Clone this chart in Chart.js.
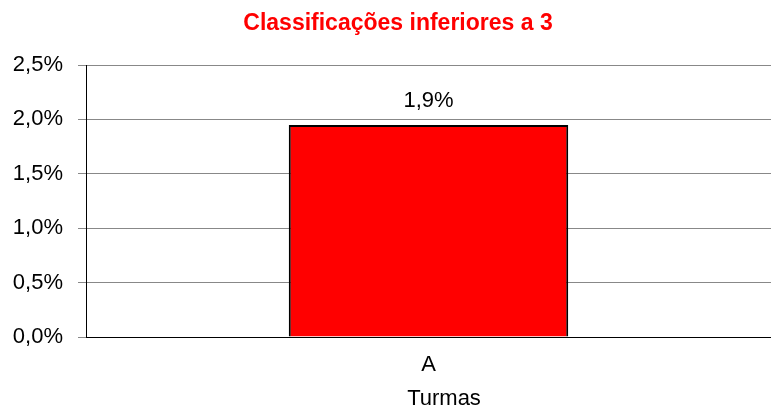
<!DOCTYPE html>
<html>
<head>
<meta charset="utf-8">
<script src="https://cdn.jsdelivr.net/npm/chart.js@4/dist/chart.umd.min.js"></script>
<style>
  html, body { margin: 0; padding: 0; background: #fff; }
  #wrap { width: 771px; height: 410px; }
</style>
</head>
<body>
<div id="wrap"><canvas id="chart" width="771" height="410"></canvas></div>
<script>
// Data
const turmas = ['A'];
const percentValues = [1.948];
const yTicks = [0, 0.5, 1, 1.5, 2, 2.5];
const chartTitle = 'Classificações inferiores a 3';
const xTitle = 'Turmas';

const FONT = '"Liberation Sans", Arial, sans-serif';
const fmt = (v, d) => v.toFixed(d).replace('.', ',') + '%';

// Titles (placed off-centre like the original) and value label above each bar
const labelsPlugin = {
  id: 'labelsPlugin',
  afterDatasetsDraw(chart) {
    const c = chart.ctx;
    const meta = chart.getDatasetMeta(0);
    c.save();
    c.textAlign = 'center';
    c.textBaseline = 'middle';
    c.font = 'bold 23px ' + FONT;
    c.fillStyle = '#ff0000';
    c.fillText(chartTitle, 398, 24);
    c.font = '22px ' + FONT;
    c.fillStyle = '#000';
    c.fillText(xTitle, 444, 399);
    meta.data.forEach((bar, i) => {
      c.fillText(fmt(percentValues[i], 1), bar.x, bar.y - 24);
    });
    c.restore();
  }
};

const ctx = document.getElementById('chart').getContext('2d');
new Chart(ctx, {
  type: 'bar',
  data: {
    labels: turmas,
    datasets: [{
      data: percentValues,
      backgroundColor: '#ff0000',
      borderColor: '#000',
      borderWidth: 2,
      barPercentage: 0.408,
      categoryPercentage: 1
    }]
  },
  options: {
    responsive: false,
    animation: false,
    layout: { padding: { left: 0, right: -6, top: 65, bottom: 0 } },
    plugins: {
      legend: { display: false },
      tooltip: { enabled: false },
      title: { display: false }
    },
    scales: {
      y: {
        min: 0,
        max: 2.5,
        afterBuildTicks: axis => { axis.ticks = yTicks.map(v => ({ value: v })); },
        afterFit: axis => { axis.width = 86; },
        grid: { color: '#888', lineWidth: 1, tickLength: 8 },
        border: { color: '#000', width: 1 },
        ticks: {
          color: '#000',
          padding: 15,
          font: { family: FONT, size: 22 },
          callback: v => fmt(v, 1)
        }
      },
      x: {
        afterFit: axis => { axis.height = 73; },
        grid: { display: false, drawTicks: false },
        border: { color: '#000', width: 1 },
        ticks: {
          color: '#000',
          padding: 15,
          font: { family: FONT, size: 22 }
        }
      }
    }
  },
  plugins: [labelsPlugin]
});
</script>
</body>
</html>
